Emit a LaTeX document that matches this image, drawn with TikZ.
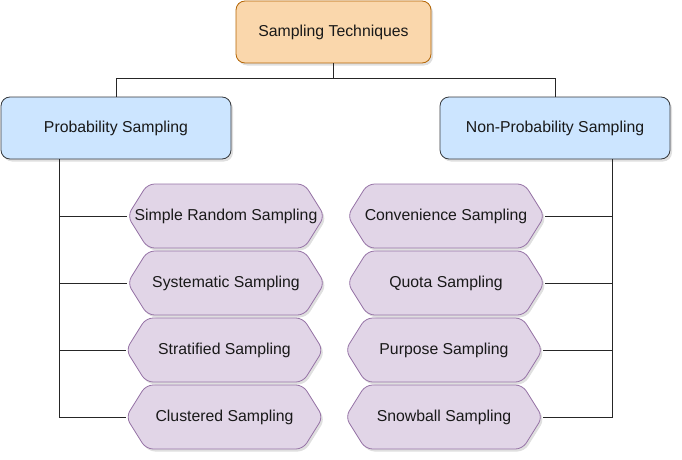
\documentclass[tikz,border=0pt]{standalone}
\usepackage{fontspec}
\setmainfont{Liberation Sans}
\usetikzlibrary{shapes.symbols,shadows}
\definecolor{rootfill}{HTML}{FAD7AC}
\definecolor{rootline}{HTML}{B46504}
\definecolor{groupfill}{HTML}{CCE5FF}
\definecolor{groupline}{HTML}{36393D}
\definecolor{methodfill}{HTML}{E1D5E7}
\definecolor{methodline}{HTML}{9673A6}
\tikzset{
	base/.style={font=\fontsize{15.8}{18}\selectfont, text=black!90, line width=0.8pt,
		drop shadow={shadow xshift=2pt, shadow yshift=-2.5pt, opacity=0.25}},
	rootbox/.style={base, draw=rootline, fill=rootfill, rounded corners=9pt,
		minimum width=195pt, minimum height=62pt},
	groupbox/.style={base, draw=groupline, fill=groupfill, rounded corners=9pt,
		minimum width=230pt, minimum height=62pt},
	method/.style={base, signal, signal to=west and east, signal pointer angle=116,
		draw=methodline, fill=methodfill, rounded corners=7pt,
		minimum width=197pt, minimum height=64pt, inner ysep=0pt, inner xsep=-14pt},
	link/.style={draw=black!85, line width=0.8pt}
}
\begin{document}
\begin{tikzpicture}[x=1pt, y=-1pt]
	\useasboundingbox (0,0) rectangle (682,460);
	\node[rootbox] (root) at (333.5,32) {Sampling Techniques};
	\node[groupbox] (prob) at (116,128) {Probability Sampling};
	\node[groupbox] (nonprob) at (555,128) {Non-Probability Sampling};
	% probability methods
	\node[method] (srs) at (226,216) {Simple Random Sampling};
	\node[method] (sys) at (226,283) {Systematic Sampling};
	\node[method] (strat) at (224.5,350) {Stratified Sampling};
	\node[method] (clust) at (224.5,417) {Clustered Sampling};
	% non-probability methods
	\node[method] (conv) at (446,216) {Convenience Sampling};
	\node[method] (quota) at (446,283) {Quota Sampling};
	\node[method] (purp) at (444,350) {Purpose Sampling};
	\node[method] (snow) at (444,417) {Snowball Sampling};
	\coordinate (pl) at (59,159);
	\coordinate (pr) at (612,159);
	\draw[link] (root.south) -- ++(0,15) -| (prob.north);
	\draw[link] (root.south) -- ++(0,15) -| (nonprob.north);
	\foreach \m in {srs,sys,strat,clust}
		\draw[link] (pl) |- (\m.west);
	\foreach \m in {conv,quota,purp,snow}
		\draw[link] (pr) |- (\m.east);
\end{tikzpicture}
\end{document}
